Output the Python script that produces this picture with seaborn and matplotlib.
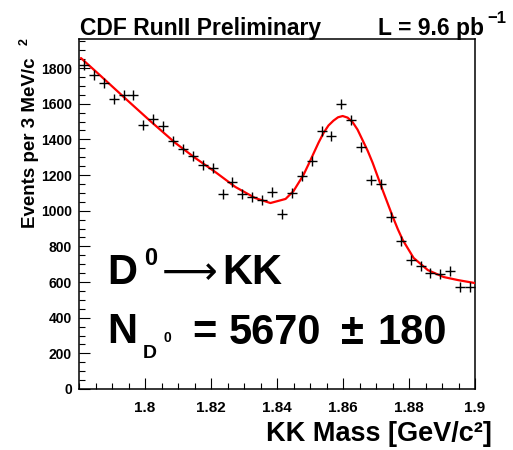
import numpy as np
import pandas as pd
import matplotlib
matplotlib.use("Agg")
import matplotlib.pyplot as plt
from matplotlib.ticker import MultipleLocator, FixedLocator
import seaborn as sns

# ---- data ----
bin_width = 0.003
bin_centers = [1.7815 + bin_width * i for i in range(40)]
counts = [1815, 1761, 1716, 1626, 1649, 1649, 1481, 1514, 1475, 1391,
          1346, 1307, 1256, 1240, 1094, 1161, 1094, 1077, 1060, 1105,
          981, 1099, 1195, 1279, 1447, 1419, 1598, 1509, 1357, 1172,
          1150, 965, 830, 723, 690, 651, 645, 662, 572, 572]

fit_mass = [1.7806, 1.7864, 1.7949, 1.8016, 1.8092, 1.8152, 1.8213, 1.8274,
            1.8334, 1.8380, 1.8426, 1.8450, 1.8480, 1.8496, 1.8511, 1.8526,
            1.8541, 1.8556, 1.8571, 1.8585, 1.8599, 1.8614, 1.8629, 1.8644,
            1.8659, 1.8675, 1.8690, 1.8705, 1.8720, 1.8736, 1.8751, 1.8766,
            1.8781, 1.8814, 1.8857, 1.8905, 1.8948, 1.9000]
fit_value = [1856, 1759, 1615, 1503, 1380, 1296, 1217, 1133,
             1071, 1043, 1066, 1110, 1200, 1262, 1322, 1382,
             1436, 1478, 1505, 1524, 1531, 1522, 1497, 1455,
             1397, 1335, 1268, 1192, 1116, 1038, 965, 897,
             836, 735, 667, 628, 611, 594]

x_ticks = [1.8, 1.82, 1.84, 1.86, 1.88, 1.9]
x_ticklabels = ["1.8", "1.82", "1.84", "1.86", "1.88", "1.9"]
y_ticks = [0, 200, 400, 600, 800, 1000, 1200, 1400, 1600, 1800]

hist_df = pd.DataFrame({"mass": bin_centers, "events": counts})
fit_df = pd.DataFrame({"mass": fit_mass, "events": fit_value})

# ---- style ----
sns.set_style("ticks")
plt.rcParams["font.family"] = ["Liberation Sans", "DejaVu Sans"]
plt.rcParams["font.weight"] = "bold"
for k in ["text.color", "axes.labelcolor", "xtick.color", "ytick.color",
          "axes.edgecolor"]:
    plt.rcParams[k] = "black"

W, H = 513, 450
fig = plt.figure(figsize=(W / 100, H / 100), dpi=100, facecolor="white")
L, R, T, B = 79, 475, 39, 389
ax = fig.add_axes([L / W, 1 - B / H, (R - L) / W, (B - T) / H])
ax.set_facecolor("white")

sns.lineplot(data=fit_df, x="mass", y="events", ax=ax, color="#ff0000",
             linewidth=1.6, sort=True, zorder=3)
sns.scatterplot(data=hist_df, x="mass", y="events", ax=ax, marker="+",
                s=60, color="black", linewidth=1.0, zorder=4)

ax.set_xlim(1.78, 1.90)
ax.set_ylim(0, 1963)
ax.xaxis.set_major_locator(FixedLocator(x_ticks))
ax.set_xticklabels(x_ticklabels)
ax.xaxis.set_minor_locator(MultipleLocator(0.005))
ax.yaxis.set_major_locator(FixedLocator(y_ticks))
ax.yaxis.set_minor_locator(MultipleLocator(50))
ax.tick_params(axis="both", which="both", direction="in", top=False, right=False,
               color="black", labelcolor="black", width=0.8)
ax.tick_params(axis="both", which="major", length=8)
ax.tick_params(axis="both", which="minor", length=4)
ax.tick_params(axis="x", which="major", labelsize=11, pad=9)
ax.tick_params(axis="y", which="major", labelsize=10, pad=5)
for lab in ax.get_xticklabels() + ax.get_yticklabels():
    lab.set_fontweight("bold")
for sp in ax.spines.values():
    sp.set_visible(True)
    sp.set_linewidth(1.1)
    sp.set_color("black")
ax.set_xlabel("")
ax.set_ylabel("")


def ftxt(x, y, s, size, **kw):
    kw.setdefault("ha", "left")
    kw.setdefault("va", "baseline")
    kw.setdefault("fontweight", "bold")
    kw.setdefault("color", "black")
    fig.text(x / W, 1 - y / H, s, fontsize=size, **kw)


# title & luminosity
ftxt(80, 35, "CDF RunII Preliminary", 16.5)
ftxt(378, 35, "L = 9.6 pb", 16.5)
ftxt(487, 23, "\u22121", 12)

# axis titles
ftxt(492, 441, "KK Mass [GeV/c\u00b2]", 19.5, ha="right")
fig.text(31 / W, 1 - 228 / H, "Events per 3 MeV/c", fontsize=13.5,
         fontweight="bold", rotation=90, ha="center", va="bottom",
         color="black")
fig.text(25 / W, 1 - 42 / H, "2", fontsize=9, fontweight="bold",
         rotation=90, ha="center", va="center", color="black")

# annotation
ftxt(107, 284, "D", 30)
ftxt(144, 265, "0", 17)
ftxt(162, 284, "\u27f6", 28, fontweight="normal", family=["DejaVu Sans"])
ftxt(222, 284, "KK", 30)
ftxt(107, 343, "N", 30)
ftxt(143, 358, "D", 14)
ftxt(164, 342, "0", 10)
ftxt(192, 344, "=", 30)
ftxt(229, 344, "5670", 30)
ftxt(341, 344, "\u00b1", 30)
ftxt(377, 344, "180", 30)

fig.savefig("out.png", dpi=100, facecolor="white")
